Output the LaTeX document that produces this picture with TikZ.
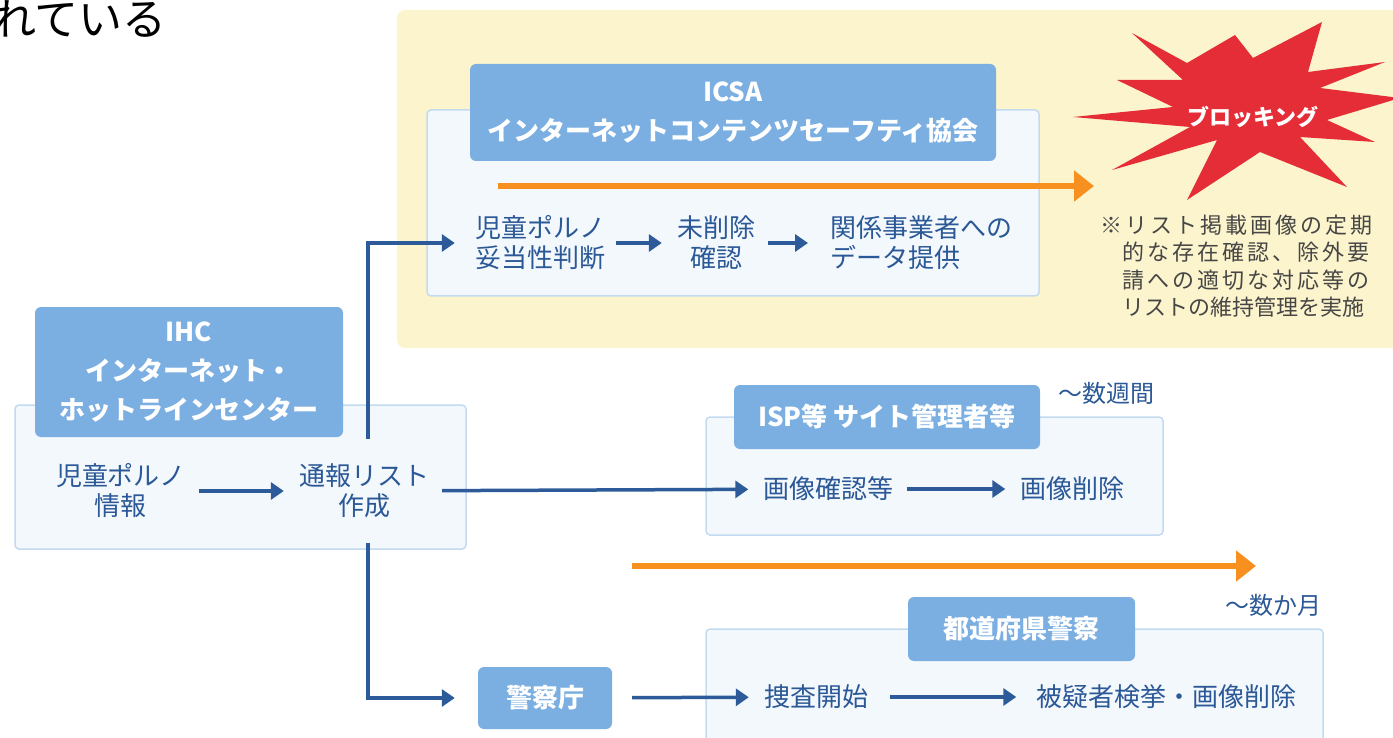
\documentclass[tikz,border=0pt]{standalone}
\usepackage{fontspec}
\setmainfont{Noto Sans CJK JP}
\newfontfamily\notefont{Noto Sans CJK JP}[LetterSpace=14]
\usetikzlibrary{arrows.meta}
\definecolor{bgYellow}{RGB}{252,244,204}
\definecolor{panelFill}{RGB}{243,248,253}
\definecolor{panelLine}{RGB}{195,218,240}
\definecolor{headBlue}{RGB}{123,174,225}
\definecolor{tuNavy}{RGB}{43,88,150}
\definecolor{flowBlue}{RGB}{45,91,154}
\definecolor{tlOrange}{RGB}{247,144,30}
\definecolor{burstRed}{RGB}{229,45,56}
\definecolor{noteGray}{RGB}{70,70,70}

\begin{document}
\begin{tikzpicture}[x=1pt,y=-1pt,
		panel/.style={draw=panelLine,fill=panelFill,line width=1.5pt,rounded corners=4pt,inner sep=0pt},
		head/.style={fill=headBlue,rounded corners=6pt,text=white,align=center,inner sep=0pt,
			font=\bfseries\fontsize{26}{39}\selectfont},
		stepnode/.style={text=tuNavy,align=center,inner sep=0pt,font=\fontsize{26}{30}\selectfont},
		flow/.style={draw=flowBlue,line width=3.5pt,-{Triangle[length=13pt,width=17pt]},
			shorten <=13pt,shorten >=15pt},
		timeline/.style={draw=tlOrange,line width=6pt,-{Triangle[length=20pt,width=30pt]}},
		lapse/.style={text=tuNavy,inner sep=0pt,font=\fontsize{24}{24}\selectfont}]
	\useasboundingbox (0,0) rectangle (1393,738);
	%\draw[help lines,step=50] (0,0) grid (1393,738);
	\node[anchor=east,inner sep=0pt,font=\fontsize{44}{44}\selectfont] (lead) at (167,19) {れている};

	% ICSA
	\fill[bgYellow,rounded corners=8pt] (397,10) rectangle (1410,348);
	\node[panel,minimum width=612pt,minimum height=186pt] (icsaP) at (733,203) {};
	\node[head,minimum width=526pt,minimum height=97pt] (icsaH) at (733,112.5) {ICSA\\インターネットコンテンツセーフティ協会};
	\coordinate (tlA) at (498,186);
	\coordinate (tlB) at (1094,186);
	\draw[timeline] (tlA) -- (tlB);
	\node[stepnode] (icsa1) at (540,243) {児童ポルノ\\妥当性判断};
	\node[stepnode] (icsa2) at (716,243) {未削除\\確認};
	\node[stepnode,anchor=west,align=left] (icsa3) at (830,243) {関係事業者への\\データ提供};
	\draw[flow,shorten <=11pt] (icsa1) -- (icsa2);
	\draw[flow,shorten >=22pt] (icsa2) -- (icsa3);

	\fill[burstRed] (1073,117) -- (1173,107) -- (1117,80) -- (1183,80) -- (1132,33) -- (1187,63)
		-- (1235,35) -- (1253,58) -- (1322,22) -- (1308,72) -- (1385,62) -- (1320,88)
		-- (1400,98) -- (1327,120) -- (1375,142) -- (1300,137) -- (1347,187) -- (1260,152)
		-- (1187,200) -- (1217,140) -- (1112,170) -- (1190,127) -- cycle;
	\node[text=white,font=\bfseries\fontsize{22}{22}\selectfont,inner sep=0pt] (blocking) at (1253,117) {ブロッキング};
	\node[anchor=west,align=left,inner sep=0pt,text=noteGray,font=\notefont\fontsize{22}{27.5}\selectfont] (note) at (1100,266)
		{※リスト掲載画像の定期\\\hphantom{※}的な存在確認、除外要\\\hphantom{※}請への適切な対応等の\\\hphantom{※}{\rmfamily リストの維持管理を実施}};

	% IHC
	\node[panel,minimum width=451pt,minimum height=144pt] (ihcP) at (240.5,477) {};
	\node[head,minimum width=308pt,minimum height=130pt] (ihcH) at (189,372) {IHC\\インターネット・\\ホットラインセンター};
	\node[stepnode] (ihc1) at (121,491) {児童ポルノ\\情報};
	\node[stepnode] (ihc2) at (364,491) {通報リスト\\作成};
	\draw[flow] (ihc1) -- (ihc2);
	\draw[flow,shorten <=25pt,shorten >=20pt] ([xshift=4pt]ihc2.north) |- (icsa1.west);

	% ISP
	\node[panel,minimum width=457pt,minimum height=118pt] (ispP) at (934.5,476) {};
	\node[head,minimum width=306pt,minimum height=64pt] (ispH) at (887,417) {ISP等 サイト管理者等};
	\node[lapse,anchor=west] (weeks) at (1058,393) {〜数週間};
	\node[stepnode] (isp1) at (828.5,489) {画像確認等};
	\node[stepnode] (isp2) at (1072.5,489) {画像削除};
	\draw[flow] (ihc2) -- (isp1);
	\draw[flow] (isp1) -- (isp2);

	\coordinate (tlC) at (632,566);
	\coordinate (tlD) at (1256,566);
	\draw[timeline] (tlC) -- (tlD);
	\node[lapse,anchor=east] (months) at (1322,605) {〜数か月};

	% police
	\node[panel,minimum width=617pt,minimum height=142pt] (polP) at (1014.5,700) {};
	\node[head,minimum width=227pt,minimum height=64pt] (polH) at (1021.5,629) {都道府県警察};
	\node[head,minimum width=134pt,minimum height=62pt] (npa) at (545,698) {警察庁};
	\node[stepnode] (pol1) at (816,697) {捜査開始};
	\node[stepnode] (pol2) at (1166.5,697) {被疑者検挙・画像削除};
	\draw[flow,shorten <=25pt,shorten >=23pt] ([xshift=4pt]ihc2.south) |- (npa.west);
	\draw[flow,shorten <=20pt] (npa) -- (pol1);
	\draw[flow,shorten <=22pt,shorten >=20pt] (pol1) -- (pol2);
\end{tikzpicture}
\end{document}
